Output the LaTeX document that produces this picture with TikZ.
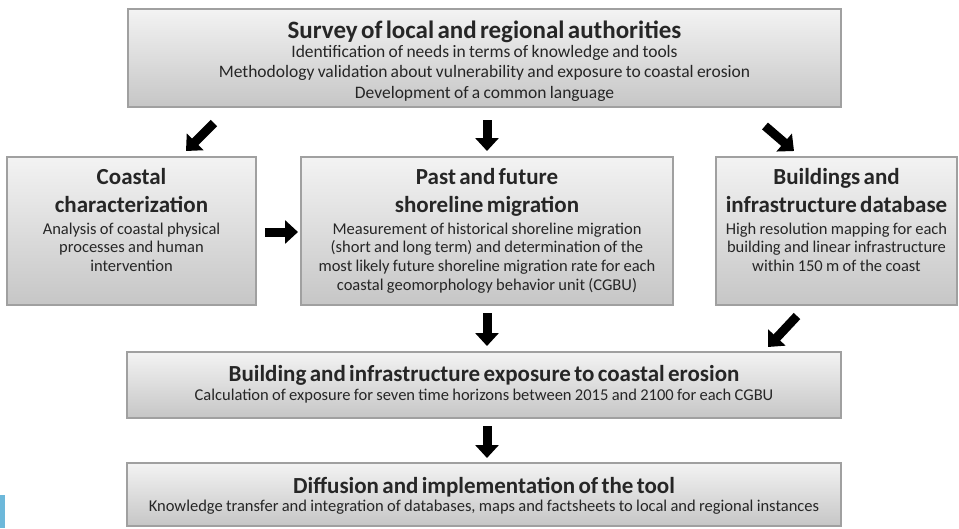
\documentclass[tikz,border=0pt]{standalone}
\usepackage{fontspec}
\setmainfont{Carlito}
\usetikzlibrary{arrows.meta}
\definecolor{boxtop}{HTML}{F3F3F3}
\definecolor{boxbot}{HTML}{C6C6C6}
\definecolor{boxline}{HTML}{A0A0A0}
\definecolor{edgeblue}{HTML}{6DB8DA}
\newcommand{\hdfont}{\fontsize{23}{28}\selectfont\bfseries}
\newcommand{\bdfont}{\fontsize{16.5}{18.6}\selectfont}
\newcommand{\bighdfont}{\fontsize{25}{30}\selectfont\bfseries}
\newcommand{\bigbdfont}{\fontsize{17.5}{20.3}\selectfont}
\begin{document}
\begin{tikzpicture}[x=1pt,y=-1pt,
  panel/.style={draw=boxline, line width=1.2pt, top color=boxtop, bottom color=boxbot, inner sep=0pt},
  caption/.style={anchor=north, align=center, inner sep=0pt, text=black!85},
  flow/.style={line width=9pt, -{Triangle[width=23pt,length=13pt]}, black}]
\useasboundingbox (0,0) rectangle (959,528);
\fill[edgeblue] (0,495) rectangle (5,528);

% boxes
\node[panel, minimum width=713pt, minimum height=98pt]  (survey) at (484.5,58)  {};
\node[panel, minimum width=249pt, minimum height=148pt] (coast)  at (131.5,231) {};
\node[panel, minimum width=372pt, minimum height=148pt] (shore)  at (487,231)   {};
\node[panel, minimum width=241pt, minimum height=148pt] (bldg)   at (836.5,231) {};
\node[panel, minimum width=714pt, minimum height=66pt]  (expo)   at (484,385)   {};
\node[panel, minimum width=714pt, minimum height=63pt]  (diff)   at (484,494.5) {};

% texts
\node[caption, text width=700pt] (surveyT) at ([yshift=-12pt]survey.north)
  {{\bighdfont Survey of local and regional authorities\par}\vspace{-1pt}
   {\bigbdfont Identification of needs in terms of knowledge and tools\\
   Methodology validation about vulnerability and exposure to coastal erosion\\
   Development of a common language\par}};
\node[caption, text width=240pt] (coastT) at ([yshift=-12pt]coast.north)
  {{\hdfont Coastal\\characterization\par}\vspace{3pt}
   {\bdfont Analysis of coastal physical\\processes and human\\intervention\par}};
\node[caption, text width=365pt] (shoreT) at ([yshift=-12pt]shore.north)
  {{\hdfont Past and future\\shoreline migration\par}\vspace{3pt}
   {\bdfont Measurement of historical shoreline migration\\
   (short and long term) and determination of the\\
   most likely future shoreline migration rate for each\\
   coastal geomorphology behavior unit (CGBU)\par}};
\node[caption, text width=238pt] (bldgT) at ([yshift=-12pt]bldg.north)
  {{\hdfont Buildings and\\infrastructure database\par}\vspace{3pt}
   {\bdfont High resolution mapping for each\\building and linear infrastructure\\within 150 m of the coast\par}};
\node[caption, text width=700pt] (expoT) at ([yshift=-14pt]expo.north)
  {{\hdfont Building and infrastructure exposure to coastal erosion\par}
   {\bdfont Calculation of exposure for seven time horizons between 2015 and 2100 for each CGBU\par}};
\node[caption, text width=700pt] (diffT) at ([yshift=-14.5pt]diff.north)
  {{\hdfont Diffusion and implementation of the tool\par}
   {\bdfont Knowledge transfer and integration of databases, maps and factsheets to local and regional instances\par}};

% arrow end points
\coordinate (a1s) at (214,123); \coordinate (a1e) at (186,151);
\coordinate (a2s) at (487,120); \coordinate (a2e) at (487,151);
\coordinate (a3s) at (765,126); \coordinate (a3e) at (794,151);
\coordinate (a4s) at (265,232); \coordinate (a4e) at (298,232);
\coordinate (a5s) at (487,313); \coordinate (a5e) at (487,346);
\coordinate (a6s) at (797,316); \coordinate (a6e) at (768,347);
\coordinate (a7s) at (487,426); \coordinate (a7e) at (487,458);

\draw[flow] (a1s) -- (a1e);
\draw[flow] (a2s) -- (a2e);
\draw[flow] (a3s) -- (a3e);
\draw[flow] (a4s) -- (a4e);
\draw[flow] (a5s) -- (a5e);
\draw[flow] (a6s) -- (a6e);
\draw[flow] (a7s) -- (a7e);
\end{tikzpicture}
\end{document}
